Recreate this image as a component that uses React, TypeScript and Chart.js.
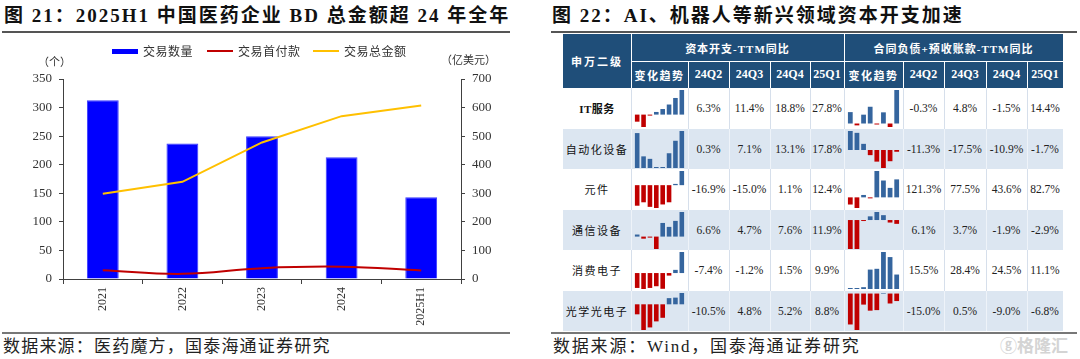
import React, { useEffect, useRef } from 'react';
import { Chart, registerables } from 'chart.js';

Chart.register(...registerables);

// ---------- Left chart data ----------
const categories = ['2021', '2022', '2023', '2024', '2025H1'];
const dealCount = [313, 237, 250, 213, 143];
const upfrontPayment = [31, 18, 38, 43, 30];
const totalAmount = [298, 340, 478, 570, 607];
const leftTicks = [0, 50, 100, 150, 200, 250, 300, 350];
const rightTicks = [0, 100, 200, 300, 400, 500, 600, 700];
const seriesNames = ['交易数量', '交易首付款', '交易总金额'];

// ---------- Right table data ----------
const industries = ['IT服务', '自动化设备', '元件', '通信设备', '消费电子', '光学光电子'];
const tableQuarters = ['24Q2', '24Q3', '24Q4', '25Q1'];
const trendQuarters = ['23Q2', '23Q3', '23Q4', '24Q1', '24Q2', '24Q3', '24Q4', '25Q1'];
const capexIT = [-8, -14, -0.5, 3, 6.3, 11.4, 18.8, 27.8];
const capexAuto = [16.8, 5.6, 4.4, 0.1, 0.3, 7.1, 13.1, 17.8];
const capexComponents = [-18, -15, -19, -20, -16.9, -15.0, 1.1, 12.4];
const capexTelecom = [1, -1, -0.5, -6, 6.6, 4.7, 7.6, 11.9];
const capexConsumer = [-7.0, -7.5, -7.0, -6.2, -7.4, -1.2, 1.5, 9.9];
const capexOptical = [-7.8, -20, -18, -13.3, -10.5, 4.8, 5.2, 8.8];
const contractIT = [4.9, -0.8, 3.8, 7.2, -0.3, 4.8, -1.5, 14.4];
const contractAuto = [18.5, 16.7, 6, -5, -11.3, -17.5, -10.9, -1.7];
const contractComponents = [-33, -49, 11, -2, 121.3, 77.5, 43.6, 82.7];
const contractTelecom = [-22, -22, -0.5, 2.8, 6.1, 3.7, -1.9, -2.9];
const contractConsumer = [0.5, 0.5, 1.4, 14.9, 15.5, 28.4, 24.5, 11.1];
const contractOptical = [-28, -33, -10, -15.5, -15.0, 0.5, -9.0, -6.8];

const capexRows = [capexIT, capexAuto, capexComponents, capexTelecom, capexConsumer, capexOptical];
const contractRows = [contractIT, contractAuto, contractComponents, contractTelecom, contractConsumer, contractOptical];

// ---------- styles ----------
const SERIF = '"Liberation Serif", "Noto Sans CJK SC", serif';
const CJK = '"Liberation Serif", "Noto Sans CJK SC", sans-serif';
const NAVY = '#1f4e79';
const LIGHT = '#dce6f1';
const SPARK_BLUE = '#35659e';
const SPARK_RED = '#c00000';

const COLS = [563, 631, 688, 729, 770, 810, 844, 903, 944, 986, 1027, 1063];
const HEAD_TOP = 34;
const HEAD_MID = 61;
const BODY_TOP = 88;
const ROW_H = 40.5;

function BDChart() {
  const ref = useRef<HTMLCanvasElement | null>(null);
  useEffect(() => {
    const axisColor = '#404040';
    const chart = new Chart(ref.current as HTMLCanvasElement, {
      type: 'bar',
      data: {
        labels: categories,
        datasets: [
          {
            type: 'line',
            label: seriesNames[1],
            data: upfrontPayment,
            yAxisID: 'y1',
            borderColor: '#c00000',
            borderWidth: 2,
            tension: 0.4,
            pointRadius: 0,
            order: 1,
          } as any,
          {
            type: 'line',
            label: seriesNames[2],
            data: totalAmount,
            yAxisID: 'y1',
            borderColor: '#ffc000',
            borderWidth: 2,
            tension: 0,
            pointRadius: 0,
            order: 1,
          } as any,
          {
            type: 'bar',
            label: seriesNames[0],
            data: dealCount,
            yAxisID: 'y',
            backgroundColor: '#0000ff',
            borderColor: '#3a3aff',
            borderWidth: 1,
            barPercentage: 0.4,
            categoryPercentage: 1,
            order: 2,
          },
        ],
      },
      options: {
        animation: false,
        responsive: false,
        devicePixelRatio: 1,
        events: [],
        layout: { padding: { top: 43, left: 0, right: 0, bottom: 0 } },
        plugins: { legend: { display: false }, tooltip: { enabled: false } },
        scales: {
          x: {
            afterFit: (s: any) => { s.height = 47; },
            grid: { drawOnChartArea: false, tickLength: 5, color: axisColor, offset: true },
            border: { color: axisColor, width: 1 },
            ticks: {
              minRotation: 90,
              maxRotation: 90,
              padding: 3,
              color: '#333',
              font: { family: SERIF, size: 12 },
            },
          },
          y: {
            position: 'left',
            min: leftTicks[0],
            max: leftTicks[leftTicks.length - 1],
            afterFit: (s: any) => { s.width = 63; },
            afterBuildTicks: (s: any) => { s.ticks = leftTicks.map((v) => ({ value: v })); },
            grid: { drawOnChartArea: false, tickLength: 4, color: axisColor },
            border: { color: axisColor, width: 1 },
            ticks: { padding: 7, color: '#333', font: { family: SERIF, size: 13 } },
          },
          y1: {
            position: 'right',
            min: rightTicks[0],
            max: rightTicks[rightTicks.length - 1],
            afterFit: (s: any) => { s.width = 54; },
            afterBuildTicks: (s: any) => { s.ticks = rightTicks.map((v) => ({ value: v })); },
            grid: { drawOnChartArea: false, tickLength: 4, color: axisColor },
            border: { color: axisColor, width: 1 },
            ticks: { padding: 7, color: '#333', font: { family: SERIF, size: 13 } },
          },
        },
      },
    });
    return () => chart.destroy();
  }, []);
  return (
    <canvas
      ref={ref}
      width={515}
      height={290}
      style={{ position: 'absolute', left: 0, top: 36, width: 515, height: 290 }}
    />
  );
}

function Sparkline({ values, left, top, width, height }: { values: number[]; left: number; top: number; width: number; height: number }) {
  const ref = useRef<HTMLCanvasElement | null>(null);
  useEffect(() => {
    const lo = Math.min(0, ...values);
    const hi = Math.max(0, ...values);
    const chart = new Chart(ref.current as HTMLCanvasElement, {
      type: 'bar',
      data: {
        labels: trendQuarters,
        datasets: [
          {
            data: values,
            backgroundColor: values.map((v) => (v >= 0 ? SPARK_BLUE : SPARK_RED)),
            barPercentage: 0.72,
            categoryPercentage: 1,
            minBarLength: 1,
          },
        ],
      },
      options: {
        animation: false,
        responsive: false,
        devicePixelRatio: 1,
        events: [],
        layout: { padding: 0 },
        plugins: { legend: { display: false }, tooltip: { enabled: false } },
        scales: {
          x: { display: false },
          y: { display: false, min: lo, max: hi },
        },
      },
    });
    return () => chart.destroy();
  }, [values]);
  return (
    <canvas
      ref={ref}
      width={width}
      height={height}
      style={{ position: 'absolute', left, top, width, height }}
    />
  );
}

const abs = (left: number, top: number, width: number, height: number, extra: any = {}) => ({
  position: 'absolute' as const,
  left,
  top,
  width,
  height,
  ...extra,
});

const centerText = {
  display: 'flex',
  alignItems: 'center',
  justifyContent: 'center',
  whiteSpace: 'nowrap' as const,
};

function Table() {
  const elems: any[] = [];
  elems.push(<div key="hbg" style={abs(COLS[0], HEAD_TOP, COLS[11] - COLS[0], BODY_TOP - HEAD_TOP, { background: NAVY })} />);
  elems.push(<div key="hv1" style={abs(COLS[1], HEAD_TOP, 1, BODY_TOP - HEAD_TOP, { background: '#fff' })} />);
  elems.push(<div key="hv2" style={abs(COLS[6], HEAD_TOP, 1, BODY_TOP - HEAD_TOP, { background: '#fff' })} />);
  elems.push(<div key="hh" style={abs(COLS[1], HEAD_MID, COLS[11] - COLS[1], 1, { background: '#fff' })} />);
  [2, 3, 4, 5, 7, 8, 9, 10].forEach((c) => {
    elems.push(<div key={'hv' + c + 'x'} style={abs(COLS[c], HEAD_MID, 1, BODY_TOP - HEAD_MID, { background: '#fff' })} />);
  });
  const headTxt = { color: '#fff', fontFamily: CJK, fontWeight: 'bold', fontSize: 11, ...centerText };
  elems.push(
    <div key="t0" style={abs(COLS[0], HEAD_TOP, COLS[1] - COLS[0], BODY_TOP - HEAD_TOP, { ...headTxt, letterSpacing: 2 })}>申万二级</div>
  );
  elems.push(
    <div key="t1" style={abs(COLS[1], HEAD_TOP, COLS[6] - COLS[1], HEAD_MID - HEAD_TOP, { ...headTxt, letterSpacing: 1 })}>资本开支-TTM同比</div>
  );
  elems.push(
    <div key="t2" style={abs(COLS[6], HEAD_TOP, COLS[11] - COLS[6], HEAD_MID - HEAD_TOP, { ...headTxt, letterSpacing: 1 })}>合同负债+预收账款-TTM同比</div>
  );
  [1, 6].forEach((start) => {
    elems.push(
      <div key={'tr' + start} style={abs(COLS[start], HEAD_MID, COLS[start + 1] - COLS[start], BODY_TOP - HEAD_MID, { ...headTxt, letterSpacing: 1.5 })}>变化趋势</div>
    );
    tableQuarters.forEach((q, qi) => {
      const c = start + 1 + qi;
      elems.push(
        <div key={'q' + start + q} style={abs(COLS[c], HEAD_MID, COLS[c + 1] - COLS[c], BODY_TOP - HEAD_MID, { ...headTxt, fontSize: 12 })}>{q}</div>
      );
    });
  });

  industries.forEach((name, i) => {
    const top = BODY_TOP + i * ROW_H;
    elems.push(
      <div key={'bg' + i} style={abs(COLS[0], top, COLS[11] - COLS[0], ROW_H, { background: i % 2 === 0 ? '#ffffff' : LIGHT })} />
    );
    for (let c = 1; c < 11; c++) {
      elems.push(
        <div key={'bv' + i + '_' + c} style={abs(COLS[c], top, 1, ROW_H, { background: i % 2 === 0 ? '#d6dfeb' : '#eef3f9' })} />
      );
    }
    elems.push(
      <div
        key={'n' + i}
        style={abs(COLS[0], top, COLS[1] - COLS[0], ROW_H, {
          ...centerText,
          fontFamily: CJK,
          fontSize: 11,
          fontWeight: i === 0 ? 'bold' : 'normal',
          letterSpacing: i === 0 ? 0.5 : 1.5,
          color: '#111',
        })}
      >
        {name}
      </div>
    );
    [[1, capexRows[i]], [6, contractRows[i]]].forEach(([start, vals]: any) => {
      elems.push(
        <Sparkline
          key={'sp' + i + '_' + start}
          values={vals}
          left={COLS[start] + 3}
          top={Math.round(top) + 2}
          width={COLS[start + 1] - COLS[start] - 6}
          height={Math.round(ROW_H) - 4}
        />
      );
      vals.slice(4).forEach((v: number, qi: number) => {
        const c = start + 1 + qi;
        elems.push(
          <div
            key={'v' + i + '_' + c}
            style={abs(COLS[c], top, COLS[c + 1] - COLS[c], ROW_H, {
              ...centerText,
              fontFamily: SERIF,
              fontSize: 11.5,
              color: '#222',
            })}
          >
            {v.toFixed(1) + '%'}
          </div>
        );
      });
    });
  });
  return <>{elems}</>;
}

function LegendItem({ left, color, kind, label }: { left: number; color: string; kind: 'box' | 'line'; label: string }) {
  return (
    <div style={abs(left, 43, 120, 16, { display: 'flex', alignItems: 'center', whiteSpace: 'nowrap' })}>
      <div
        style={{
          width: 26,
          height: kind === 'box' ? 5 : 2,
          background: color,
          marginRight: 5,
        }}
      />
      <span style={{ fontFamily: CJK, fontSize: 12, color: '#333', letterSpacing: 0.5 }}>{label}</span>
    </div>
  );
}

const titleStyle = {
  fontFamily: SERIF,
  fontWeight: 'bold',
  fontSize: 19,
  letterSpacing: 2,
  color: '#111',
  whiteSpace: 'nowrap',
  lineHeight: '26px',
};

export default function App() {
  return (
    <div style={{ position: 'absolute', left: 0, top: 0, width: 1080, height: 359, background: '#fff', overflow: 'hidden' }}>
      {/* Left panel */}
      <div style={abs(4, 3, 530, 26, titleStyle)}>
        图 21：2025H1 中国医药企业 BD 总金额超 24 年全年
      </div>
      <div style={abs(2, 31, 508, 2, { background: '#555' })} />
      <BDChart />
      <LegendItem left={112} color="#0000ff" kind="box" label={seriesNames[0]} />
      <LegendItem left={207} color="#c00000" kind="line" label={seriesNames[1]} />
      <LegendItem left={313} color="#ffc000" kind="line" label={seriesNames[2]} />
      <div style={abs(38, 53, 40, 16, { fontFamily: CJK, fontSize: 11, color: '#333', whiteSpace: 'nowrap' })}>（个）</div>
      <div style={abs(441, 51, 70, 16, { fontFamily: CJK, fontSize: 11, color: '#333', whiteSpace: 'nowrap' })}>（亿美元）</div>
      <div style={abs(2, 332, 508, 2, { background: '#777' })} />
      <div style={abs(3, 336, 520, 22, { fontFamily: CJK, fontSize: 17, color: '#222', whiteSpace: 'nowrap', letterSpacing: 1.2, lineHeight: '22px' })}>
        数据来源：医药魔方，国泰海通证券研究
      </div>

      {/* Right panel */}
      <div style={abs(552, 3, 520, 26, titleStyle)}>
        图 22：AI、机器人等新兴领域资本开支加速
      </div>
      <div style={abs(551, 31, 526, 2, { background: '#555' })} />
      <Table />
      <div style={abs(551, 332, 526, 2, { background: '#777' })} />
      <div style={abs(553, 336, 420, 22, { fontFamily: CJK, fontSize: 17, color: '#222', whiteSpace: 'nowrap', letterSpacing: 1.8, lineHeight: '22px' })}>
        数据来源：Wind，国泰海通证券研究
      </div>
      <div style={abs(1000, 336, 78, 22, { fontFamily: CJK, fontSize: 17, fontWeight: 'bold', color: '#d4d4d4', whiteSpace: 'nowrap', lineHeight: '22px' })}>
        ⓖ格隆汇
      </div>
    </div>
  );
}
